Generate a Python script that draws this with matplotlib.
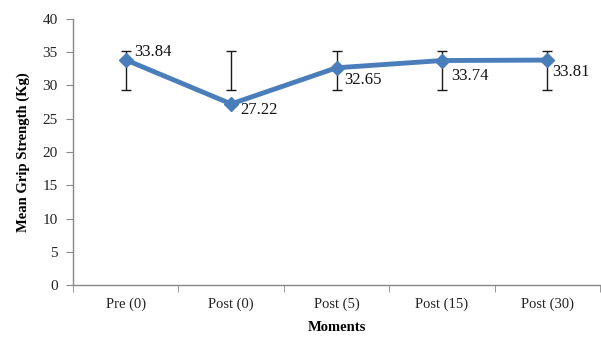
import matplotlib
matplotlib.use("Agg")
import matplotlib.pyplot as plt
from matplotlib.ticker import FixedLocator, NullFormatter

# Mean grip strength at each measurement moment
moments = ["Pre (0)", "Post (0)", "Post (5)", "Post (15)", "Post (30)"]
means = [33.84, 27.22, 32.65, 33.74, 33.81]
err_low = [29.3, 29.3, 29.3, 29.3, 29.3]
err_high = [35.1, 35.1, 35.1, 35.1, 35.1]
yticks = [0, 5, 10, 15, 20, 25, 30, 35, 40]

# label offsets (pixels) for the value annotations
label_offsets = [(8, 8), (9, -6), (8, -12), (9, -15), (5, -12)]

plt.rcParams["font.family"] = ["Liberation Serif", "DejaVu Serif"]

fig = plt.figure(figsize=(6.01, 3.37), dpi=100)
ax = fig.add_axes([0.1215, 0.154, 0.877, 0.79])

x = list(range(len(moments)))

# error bars: vertical range with caps at both ends
ax.vlines(x, err_low, err_high, color="#1a1a1a", linewidth=1.0, zorder=2)
ax.plot(x, err_low, linestyle="none", marker="_", markersize=7,
        markeredgewidth=1.0, color="#1a1a1a", zorder=2)
ax.plot(x, err_high, linestyle="none", marker="_", markersize=7,
        markeredgewidth=1.0, color="#1a1a1a", zorder=2)

ax.plot(x, means, color="#4a7ebb", linewidth=3.5, marker="D",
        markersize=7, markerfacecolor="#4a7ebb", markeredgecolor="#4a7ebb",
        zorder=3)

for xi, v, (dx, dy) in zip(x, means, label_offsets):
    ax.annotate(f"{v:.2f}", (xi, v), xytext=(dx, dy), textcoords="offset pixels",
                ha="left", va="center", fontsize=12, color="#111111", zorder=4)

ax.set_xlim(-0.5, len(moments) - 0.5)
ax.set_ylim(0, 40)
ax.set_yticks(yticks)
ax.set_xticks(x)
ax.set_xticklabels(moments, fontsize=10.5)
ax.xaxis.set_minor_locator(FixedLocator([i + 0.5 for i in range(-1, len(moments))]))
ax.xaxis.set_minor_formatter(NullFormatter())
ax.tick_params(axis="x", which="major", length=0, pad=9, colors="#222222")
ax.tick_params(axis="x", which="minor", length=5, color="#888888", direction="out")
ax.tick_params(axis="y", length=5, color="#888888", labelsize=11, pad=6,
               labelcolor="#222222")

for side in ("top", "right"):
    ax.spines[side].set_visible(False)
for side in ("left", "bottom"):
    ax.spines[side].set_color("#888888")
    ax.spines[side].set_linewidth(1.0)

ax.set_ylabel("Mean Grip Strength (Kg)", fontsize=10.5, fontweight="bold",
              labelpad=9)
ax.set_xlabel("Moments", fontsize=10.5, fontweight="bold", labelpad=7)

fig.savefig("out.png", dpi=100)
